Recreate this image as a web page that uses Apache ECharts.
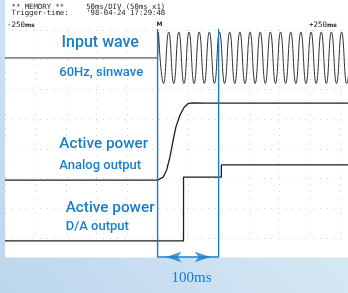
<!DOCTYPE html>
<html><head><meta charset="utf-8">
<script src="https://cdn.jsdelivr.net/npm/echarts@6/dist/echarts.min.js"></script>
<style>html,body{margin:0;padding:0;overflow:hidden;background:#fff}#c{width:348px;height:293px}</style>
</head><body><div id="c"></div>
<script>
// ---- data (time in ms, level in screen divisions) ----
const timeMin = -250;
const timeMax = 312;
const levelMin = 0;
const levelMax = 7;
const inputFlat = [[-250, 6.06], [0, 6.06], [1.5, 6.93]];
const inputWave = [
  [1.5,6.93],[9.8,5.2],[18.2,6.93],[26.5,5.2],[34.8,6.93],[43.2,5.2],[51.5,6.93],[59.8,5.2],
  [68.2,6.93],[76.5,5.2],[84.8,6.93],[93.2,5.2],[101.5,6.93],[109.8,5.2],[118.2,6.93],[126.5,5.2],
  [134.8,6.93],[143.2,5.2],[151.5,6.93],[159.8,5.2],[168.2,6.93],[176.5,5.2],[184.8,6.93],[193.2,5.2],
  [201.5,6.93],[209.8,5.2],[218.2,6.93],[226.5,5.2],[234.8,6.93],[243.2,5.2],[251.5,6.93],[259.8,5.2],
  [268.2,6.93],[276.5,5.2],[284.8,6.93],[293.2,5.2],[301.5,6.93],[309.8,5.2],[318.2,6.93]
];
const analogPower = [
  [-250,1.95],[0,1.95],[3.9,1.99],[9.3,2.05],[14.9,2.29],[20.3,2.73],[25.2,3.26],[30.1,3.74],
  [36.7,4.14],[43.3,4.39],[49.8,4.52],[56.4,4.55],[80,4.54],[312,4.54]
];
const daPower = [[-250,-0.1],[42.5,2.05],[104.5,2.46],[312,2.46]];
const markerTimes = [0, 100];
const markerTop = 7.03;
const markerBottom = -0.64;
const headerLine1 = '** MEMORY **     50ms/DIV (50ms x1)';
const headerLine2 = "Trigger-time:    '98-04-24 17:29:48";
const rangeLabels = ['-250', '+250'];
const traceLabels = [
  ['Input wave', '60Hz, sinwave'],
  ['Active power', 'Analog output'],
  ['Active power', 'D/A output']
];
const spanLabel = '100ms';

// ---- chart ----
const BLUE = '#1c7dc5';
const TXT = '#1b7fc6';
const chart = echarts.init(document.getElementById('c'), null, {renderer: 'canvas'});
const grid = {left: 5, right: 0, top: 30, bottom: 55};
const split = {show: true, lineStyle: {color: '#d2d2d2', type: [1, 6], width: 1}};

const bracket = [
  [markerTimes[0], markerTop], [markerTimes[0], markerBottom],
  [markerTimes[1], markerBottom], [markerTimes[1], markerTop]
];

function label(text, x, y, size) {
  return {type: 'text', x: x, y: y, z: 100, silent: true,
    style: {text: text, fill: TXT, fontSize: size, fontFamily: 'Roboto', fontWeight: 500, verticalAlign: 'middle'}};
}
function mono(text, x, y, size) {
  return {type: 'text', x: x, y: y, z: 100, silent: true,
    style: {text: text, fill: '#222', fontSize: size, fontFamily: 'DejaVu Sans Mono', verticalAlign: 'middle'}};
}
function rangeLabel(t, x, y) {
  return {type: 'text', x: x, y: y, z: 100, silent: true,
    style: {text: '{a|' + t + '}{b|ms}', verticalAlign: 'middle',
      rich: {a: {fontSize: 7.5, fontFamily: 'DejaVu Sans Mono', fill: '#222'},
             b: {fontSize: 6, fontFamily: 'DejaVu Sans', fontWeight: 'bold', fill: '#222'}}}};
}

const option = {
  animation: false,
  backgroundColor: new echarts.graphic.LinearGradient(0, 1, 1, 0, [
    {offset: 0, color: '#bdd6ed'}, {offset: 1, color: '#e4f2f9'}
  ]),
  grid: grid,
  xAxis: {type: 'value', min: timeMin, max: timeMax, interval: 50,
    axisLine: {show: false}, axisTick: {show: false}, axisLabel: {show: false},
    splitLine: Object.assign({showMaxLine: false}, split)},
  yAxis: {type: 'value', min: levelMin, max: levelMax, interval: 1,
    axisLine: {show: false}, axisTick: {show: false}, axisLabel: {show: false},
    splitLine: split},
  graphic: [
    {type: 'rect', z: -10, silent: true, shape: {x: 5, y: 0, width: 343, height: 257.5}, style: {fill: '#ffffff'}},
    mono(headerLine1, 11.5, 6.8, 7.3),
    mono(headerLine2, 11.5, 12.9, 7.3),
    rangeLabel(rangeLabels[0], 7, 25.2),
    rangeLabel(rangeLabels[1], 309, 25.2),
    {type: 'text', x: 156.5, y: 24.8, z: 100, silent: true,
      style: {text: 'M', fontSize: 6, fontWeight: 'bold', fontFamily: 'DejaVu Sans', fill: '#222', verticalAlign: 'middle'}},
    label(traceLabels[0][0], 61.5, 43, 16),
    label(traceLabels[0][1], 59.3, 72.8, 13),
    label(traceLabels[1][0], 59.3, 144.2, 15.3),
    label(traceLabels[1][1], 59.3, 166, 13),
    label(traceLabels[2][0], 65.7, 208, 15.3),
    label(traceLabels[2][1], 65.7, 227, 13),
    {type: 'text', x: 191.5, y: 278, z: 100, silent: true,
      style: {text: spanLabel, fill: BLUE, fontSize: 15, fontFamily: 'Liberation Serif', align: 'center', verticalAlign: 'middle'}}
  ],
  series: [
    {type: 'line', data: inputFlat, showSymbol: false, clip: false, silent: true,
      lineStyle: {color: '#333', width: 1}},
    {type: 'line', data: inputWave, smooth: 0.5, showSymbol: false, clip: true, silent: true,
      lineStyle: {color: '#333', width: 1}},
    {type: 'line', data: analogPower, showSymbol: false, clip: false, silent: true,
      lineStyle: {color: '#1e1e1e', width: 1.3}},
    {type: 'line', data: daPower, step: 'end', showSymbol: false, clip: false, silent: true,
      lineStyle: {color: '#1e1e1e', width: 1.3}},
    {type: 'line', data: bracket, showSymbol: false, clip: false, silent: true, z: 5,
      lineStyle: {color: BLUE, width: 1.4}},
    {type: 'scatter', data: [[markerTimes[0], markerBottom]], symbol: 'arrow', symbolSize: [8, 16],
      symbolRotate: 90, symbolOffset: [8, 0], clip: false, silent: true, z: 6, itemStyle: {color: BLUE}},
    {type: 'scatter', data: [[markerTimes[1], markerBottom]], symbol: 'arrow', symbolSize: [8, 16],
      symbolRotate: -90, symbolOffset: [-8, 0], clip: false, silent: true, z: 6, itemStyle: {color: BLUE}}
  ]
};
chart.setOption(option);
</script></body></html>
